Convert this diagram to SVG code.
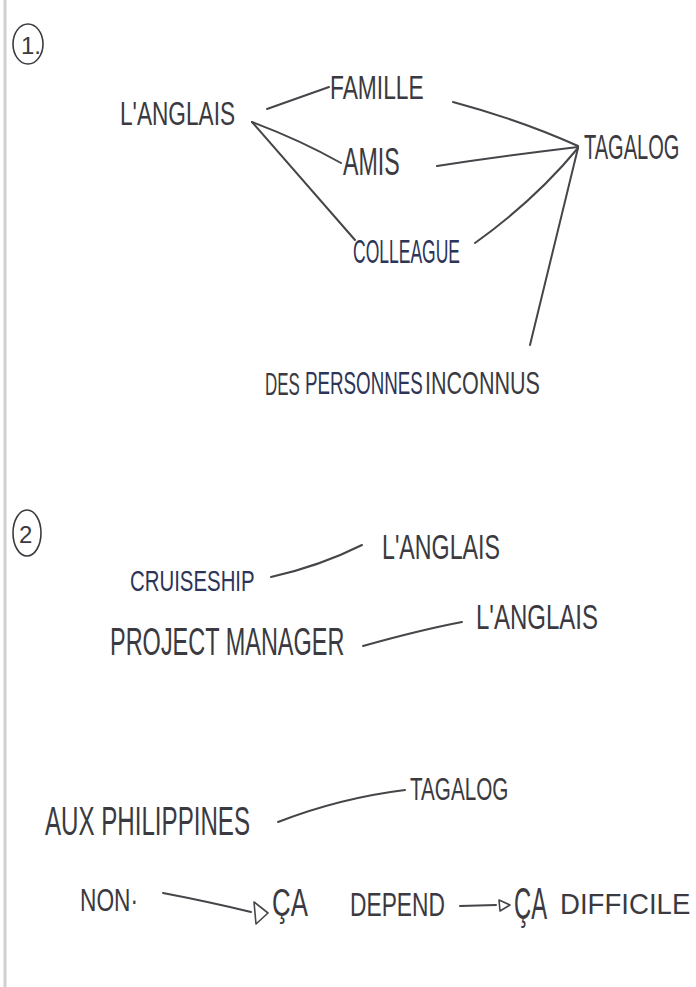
<svg xmlns="http://www.w3.org/2000/svg" width="696" height="987" viewBox="0 0 696 987">
<defs>
<style>
.t{font-family:"Liberation Sans","DejaVu Sans",sans-serif;fill:#3a3a40;font-weight:normal}
.b{fill:#2c3458}
.c{fill:none;stroke:#45454a;stroke-width:2;stroke-linecap:round}
.ring{fill:none;stroke:#3a3a40;stroke-width:1.6}
.tri{fill:none;stroke:#45454a;stroke-width:1.6;stroke-linejoin:round}
</style>
</defs>
<rect width="696" height="987" fill="#ffffff"/>
<line x1="5" y1="0" x2="5" y2="987" stroke="#cfcfcf" stroke-width="3"/>

<g id="sec1-marker">
<ellipse class="ring" cx="28" cy="44" rx="15" ry="20"/>
<text class="t" x="21" y="54" font-size="24">1.</text>
</g>
<g id="sec2-marker">
<ellipse class="ring" cx="27" cy="533" rx="14" ry="23"/>
<text class="t" x="19" y="543" font-size="24">2</text>
</g>

<g id="connectors">
<path class="c" d="M267,109 L329,87"/>
<path class="c" d="M252,122 Q300,140 341,163"/>
<path class="c" d="M252,122 L355,240"/>
<path class="c" d="M453,102 Q520,120 578,146"/>
<path class="c" d="M437,166 Q510,155 578,147"/>
<path class="c" d="M475,243 Q535,200 578,148"/>
<path class="c" d="M578,148 L530,345"/>
<path class="c" d="M271,577 Q320,566 362,545"/>
<path class="c" d="M363,646 Q420,630 462,622"/>
<path class="c" d="M278,822 Q340,798 405,790"/>
<path class="c" d="M163,893 Q210,902 251,912"/>
<polygon class="tri" points="254,902 268,913 256,924"/>
<path class="c" d="M460,906 L496,905"/>
<polygon class="tri" points="499,900 510,905 500,911"/>
</g>

<g id="langlais1"><text class="t" font-size="34" transform="translate(120,125) scale(0.666,1)">L'ANGLAIS</text></g>
<g id="famille"><text class="t" font-size="34" transform="translate(330,99) scale(0.67,1)">FAMILLE</text></g>
<g id="amis"><text class="t" font-size="38" transform="translate(343,175) scale(0.61,1)">AMIS</text></g>
<g id="colleague"><text class="t b" font-size="34" transform="translate(353,263) scale(0.515,1)">COLLEAGUE</text></g>
<g id="tagalog1"><text class="t" font-size="36" transform="translate(584,159) scale(0.557,1)">TAGALOG</text></g>
<g id="inconnus">
<text class="t" font-size="32" transform="translate(265,395) scale(0.53,1)">DES</text>
<text class="t b" font-size="32" transform="translate(305,394) scale(0.587,1)">PERSONNES</text>
<text class="t" font-size="32" transform="translate(425,394) scale(0.674,1)">INCONNUS</text>
</g>

<g id="cruiseship"><text class="t b" font-size="30" transform="translate(130,591) scale(0.68,1)">CRUISESHIP</text></g>
<g id="langlais2"><text class="t" font-size="36" transform="translate(382,559) scale(0.645,1)">L'ANGLAIS</text></g>
<g id="project-manager"><text class="t" font-size="38" transform="translate(110,655) scale(0.618,1)">PROJECT MANAGER</text></g>
<g id="langlais3"><text class="t" font-size="36" transform="translate(476,629) scale(0.667,1)">L'ANGLAIS</text></g>

<g id="philippines"><text class="t" font-size="40" transform="translate(45,835) scale(0.603,1)">AUX PHILIPPINES</text></g>
<g id="tagalog2"><text class="t" font-size="32" transform="translate(410,800) scale(0.646,1)">TAGALOG</text></g>

<g id="non"><text class="t" font-size="32" transform="translate(80,911) scale(0.71,1)">NON·</text></g>
<g id="ca-depend">
<text class="t" font-size="38" transform="translate(272,916) scale(0.68,1)">ÇA</text>
<text class="t" font-size="34" transform="translate(350,916) scale(0.67,1)">DEPEND</text>
</g>
<g id="ca-difficile">
<text class="t" font-size="44" transform="translate(514,919) scale(0.54,1)">ÇA</text>
<text class="t" font-size="30" transform="translate(560,914) scale(0.92,1)">DIFFICILE</text>
</g>
</svg>
